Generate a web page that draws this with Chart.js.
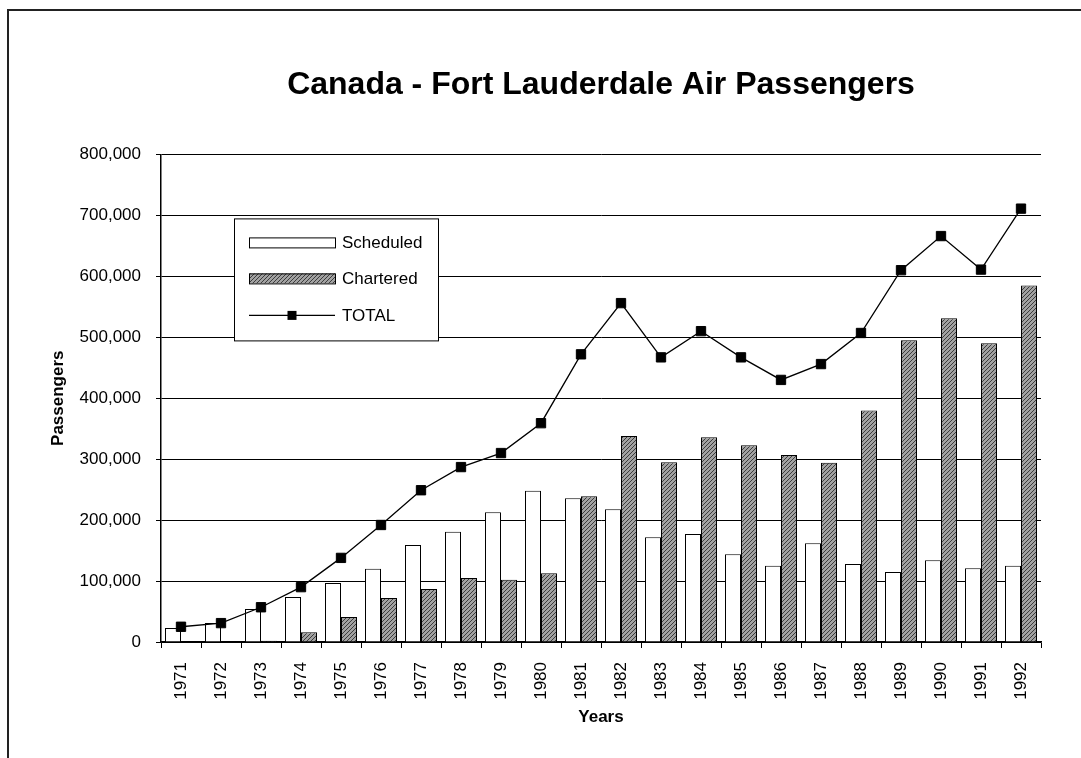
<!DOCTYPE html>
<html>
<head>
<meta charset="utf-8">
<script src="https://cdn.jsdelivr.net/npm/chart.js@4.4.1/dist/chart.umd.min.js"></script>
<style>
    html, body { margin: 0; padding: 0; background: #fff; }
    #wrap { position: relative; width: 1081px; height: 758px; overflow: hidden; }
    #frame { position: absolute; left: 7px; top: 9px; width: 1200px; height: 900px; border-top: 2px solid #222; border-left: 2px solid #222; }
    canvas { position: absolute; left: 0; top: 0; }
</style>
</head>
<body>
<div id="wrap">
    <div id="frame"></div>
    <canvas id="myChart" width="1081" height="758"></canvas>
</div>
<script>
// Data
const years = ['1971', '1972', '1973', '1974', '1975', '1976', '1977', '1978', '1979', '1980', '1981',
               '1982', '1983', '1984', '1985', '1986', '1987', '1988', '1989', '1990', '1991', '1992'];
const scheduled = [23000, 31000, 54000, 74000, 97000, 120000, 159000, 181000, 213000, 248000, 236000,
                   218000, 172000, 177000, 144000, 125000, 162000, 128000, 115000, 134000, 121000, 125000];
const chartered = [0, 0, 2000, 16000, 41000, 72000, 87000, 105000, 102000, 113000, 239000,
                   338000, 295000, 336000, 323000, 307000, 294000, 380000, 495000, 531000, 490000, 585000];
const total = [25000, 31000, 57000, 90000, 138000, 192000, 249000, 287000, 310000, 359000, 472000,
               556000, 467000, 510000, 467000, 430000, 456000, 507000, 610000, 666000, 611000, 711000];
const yMax = 800000;
const yStep = 100000;

const FONT = '"Liberation Sans", Arial, Helvetica, sans-serif';
Chart.defaults.font.family = FONT;
Chart.defaults.color = '#000';

// hatched grey fill for the chartered bars
function makeHatch() {
    const c = document.createElement('canvas');
    c.width = 4;
    c.height = 4;
    const g = c.getContext('2d');
    g.fillStyle = '#a2a2a2';
    g.fillRect(0, 0, 4, 4);
    g.strokeStyle = '#3c3c3c';
    g.lineWidth = 1;
    g.beginPath();
    g.moveTo(0, 4); g.lineTo(4, 0);
    g.moveTo(-1, 1); g.lineTo(1, -1);
    g.moveTo(3, 5); g.lineTo(5, 3);
    g.stroke();
    return g.createPattern(c, 'repeat');
}
const hatch = makeHatch();

// legend drawn as a boxed key inside the plot area
const legendBox = {
    id: 'legendBox',
    afterDatasetsDraw(chart) {
        const { ctx, chartArea } = chart;
        const x = chartArea.left + 73;
        const y = chartArea.top + 64;
        const w = 204, h = 122;
        ctx.save();
        ctx.fillStyle = '#fff';
        ctx.fillRect(x, y, w, h);
        ctx.strokeStyle = '#000';
        ctx.lineWidth = 1;
        ctx.strokeRect(x + 0.5, y + 0.5, w, h);

        const rows = [24, 60, 97];
        const sx = x + 15, sw = 86;
        ctx.font = '17px ' + FONT;
        ctx.textBaseline = 'middle';
        ctx.fillStyle = '#000';

        chart.data.datasets.forEach((ds, i) => {
            const cy = y + rows[i];
            if (ds.type === 'line') {
                ctx.beginPath();
                ctx.moveTo(sx, cy);
                ctx.lineTo(sx + sw, cy);
                ctx.lineWidth = 1.3;
                ctx.strokeStyle = '#000';
                ctx.stroke();
                ctx.fillStyle = '#000';
                ctx.fillRect(sx + sw / 2 - 4.5, cy - 4.5, 9, 9);
            } else {
                ctx.fillStyle = ds.backgroundColor;
                ctx.fillRect(sx, cy - 5, sw, 10);
                ctx.lineWidth = 1;
                ctx.strokeStyle = '#000';
                ctx.strokeRect(sx + 0.5, cy - 5 + 0.5, sw, 10);
            }
            ctx.fillStyle = '#000';
            ctx.fillText(ds.label, sx + sw + 7, cy + 1);
        });
        ctx.restore();
    }
};

const ctx = document.getElementById('myChart').getContext('2d');
const myChart = new Chart(ctx, {
    data: {
        labels: years,
        datasets: [
            {
                type: 'bar',
                label: 'Scheduled',
                data: scheduled,
                backgroundColor: '#ffffff',
                borderColor: '#000',
                borderWidth: 1,
                barPercentage: 1.0,
                categoryPercentage: 0.8,
                order: 1
            },
            {
                type: 'bar',
                label: 'Chartered',
                data: chartered,
                backgroundColor: hatch,
                borderColor: '#000',
                borderWidth: 1,
                barPercentage: 1.0,
                categoryPercentage: 0.8,
                order: 1
            },
            {
                type: 'line',
                label: 'TOTAL',
                data: total,
                borderColor: '#000',
                borderWidth: 1.3,
                tension: 0,
                pointStyle: 'rect',
                pointRadius: 6.6,
                pointBackgroundColor: '#000',
                pointBorderColor: '#000',
                pointBorderWidth: 1,
                order: 0
            }
        ]
    },
    options: {
        responsive: false,
        devicePixelRatio: 1,
        animation: false,
        layout: { padding: { left: 0, right: 40, top: 0, bottom: 0 } },
        plugins: {
            legend: { display: false },
            tooltip: { enabled: false },
            title: {
                display: true,
                text: 'Canada - Fort Lauderdale Air Passengers',
                fullSize: false,
                color: '#000',
                font: { size: 32, weight: 'bold' },
                padding: { top: 66, bottom: 50 }
            }
        },
        scales: {
            x: {
                offset: true,
                afterFit: scale => { scale.height = 116; },
                grid: {
                    offset: true,
                    drawOnChartArea: false,
                    tickLength: 6,
                    color: '#000',
                    lineWidth: 1
                },
                border: { color: '#000', width: 1.5 },
                ticks: {
                    minRotation: 90,
                    maxRotation: 90,
                    autoSkip: false,
                    padding: 14,
                    color: '#000',
                    font: { size: 17 }
                },
                title: {
                    display: true,
                    text: 'Years',
                    color: '#000',
                    font: { size: 17, weight: 'bold' },
                    padding: { top: 0, bottom: 30 }
                }
            },
            y: {
                min: 0,
                max: yMax,
                afterFit: scale => { scale.width = 161; },
                grid: { color: '#000', lineWidth: 1, tickLength: 5 },
                border: { color: '#000', width: 1.5 },
                ticks: {
                    stepSize: yStep,
                    padding: 15,
                    color: '#000',
                    font: { size: 17 },
                    callback: value => value.toLocaleString('en-US')
                },
                title: {
                    display: true,
                    text: 'Passengers',
                    color: '#000',
                    font: { size: 17, weight: 'bold' },
                    padding: { top: 48, bottom: 0 }
                }
            }
        }
    },
    plugins: [legendBox]
});
</script>
</body>
</html>
